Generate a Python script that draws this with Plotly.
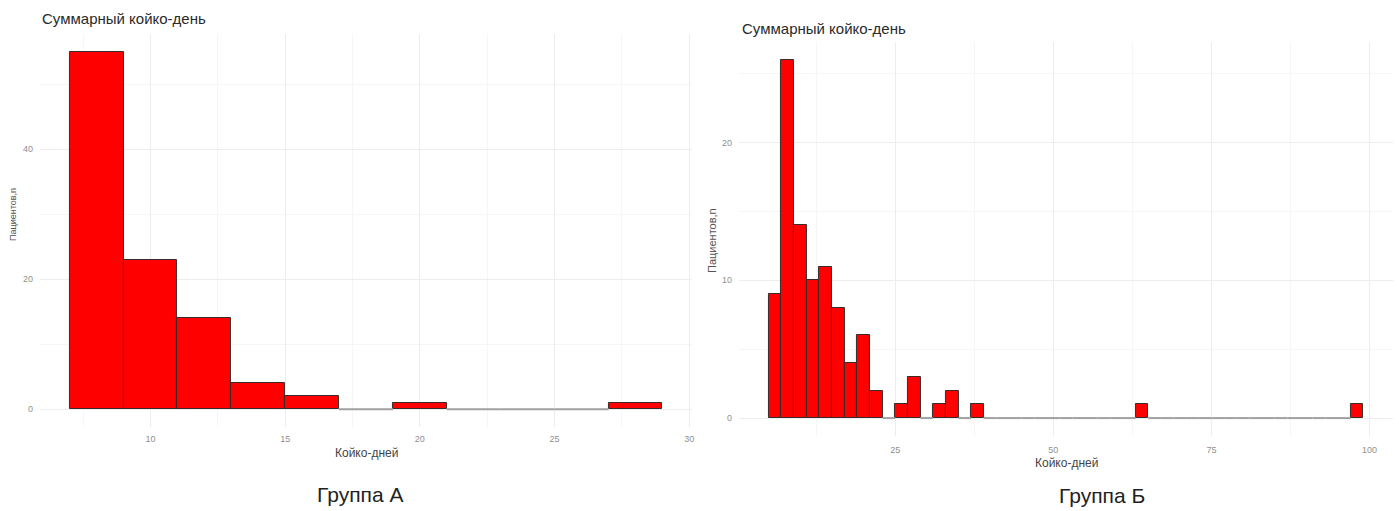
import plotly.graph_objects as go

# ---------------- data ----------------
title_text = "Суммарный койко-день"
x_title = "Койко-дней"
y_title = "Пациентов,n"
captions = ["Группа А", "Группа Б"]

# Group A histogram (bin width 2, first bin starts at 7)
a_bin_start = 7
a_bin_width = 2
a_counts = [55, 23, 14, 4, 2, 0, 1, 0, 0, 0, 1]
a_xticks = [10, 15, 20, 25, 30]
a_xminor = [7.5, 12.5, 17.5, 22.5, 27.5]
a_yticks = [0, 20, 40]
a_yminor = [10, 30, 50]

# Group B histogram (bin width 2, first bin starts at 5)
b_bin_start = 5
b_bin_width = 2
b_counts = [9, 26, 14, 10, 11, 8, 4, 6, 2, 0, 1, 3, 0, 1, 2, 0, 1,
            0, 0, 0, 0, 0, 0, 0, 0, 0, 0, 0, 0,
            1,
            0, 0, 0, 0, 0, 0, 0, 0, 0, 0, 0, 0, 0, 0, 0, 0,
            1]
b_xticks = [25, 50, 75, 100]
b_xminor = [12.5, 37.5, 62.5, 87.5]
b_yticks = [0, 10, 20]
b_yminor = [5, 15, 25]

# ---------------- layout helpers ----------------
W, H = 1399, 511


def px(x):
    return x / W


def py(y):
    return 1 - y / H


FILL = "#FF0000"
EDGE = "#3a2a2a"
ZERO = "#a0a0a0"
GRID = "#EDEDED"
GRID_MINOR = "#F6F6F6"
TICKC = "#8f8f8f"
FONT = "Liberation Sans, Arial, sans-serif"


def hist_traces(start, width, counts, xa, ya):
    xs, ys, ws = [], [], []
    zx, zy = [], []
    for i, c in enumerate(counts):
        left = start + width * i
        if c > 0:
            xs.append(left + width / 2)
            ys.append(c)
            ws.append(width)
        else:
            zx += [left, left + width, None]
            zy += [0, 0, None]
    bar = go.Bar(x=xs, y=ys, width=ws, marker=dict(color=FILL, line=dict(color=EDGE, width=1)),
                 xaxis=xa, yaxis=ya, showlegend=False, hoverinfo="x+y")
    line = go.Scatter(x=zx, y=zy, mode="lines", line=dict(color=ZERO, width=2),
                      xaxis=xa, yaxis=ya, showlegend=False, hoverinfo="skip")
    return [bar, line]


fig = go.Figure()
for t in hist_traces(a_bin_start, a_bin_width, a_counts, "x", "y"):
    fig.add_trace(t)
for t in hist_traces(b_bin_start, b_bin_width, b_counts, "x2", "y2"):
    fig.add_trace(t)


def xr(start, width, counts):
    lo = start
    hi = start + width * len(counts)
    pad = (hi - lo) * 0.05
    return [lo - pad, hi + pad]


def yr(counts):
    m = max(counts)
    return [-m * 0.05, m * 1.05]


axis_common = dict(showline=False, zeroline=False, ticks="", gridcolor=GRID, gridwidth=1,
                   tickfont=dict(family=FONT, size=9, color=TICKC))

fig.update_layout(
    width=W, height=H,
    margin=dict(l=0, r=0, t=0, b=0),
    paper_bgcolor="white", plot_bgcolor="white",
    bargap=0, showlegend=False,
    font=dict(family=FONT),
    xaxis=dict(domain=[px(40), px(693)], range=xr(a_bin_start, a_bin_width, a_counts),
               tickvals=a_xticks, ticklabelstandoff=5, anchor="y",
               minor=dict(tickvals=a_xminor, showgrid=True, gridcolor=GRID_MINOR, ticks=""),
               **axis_common),
    yaxis=dict(domain=[py(427), py(34)], range=yr(a_counts), tickvals=a_yticks,
               ticklabelstandoff=6, anchor="x",
               minor=dict(tickvals=a_yminor, showgrid=True, gridcolor=GRID_MINOR, ticks=""),
               **axis_common),
    xaxis2=dict(domain=[px(740), px(1395)], range=xr(b_bin_start, b_bin_width, b_counts),
                tickvals=b_xticks, ticklabelstandoff=7, anchor="y2",
                minor=dict(tickvals=b_xminor, showgrid=True, gridcolor=GRID_MINOR, ticks=""),
                **axis_common),
    yaxis2=dict(domain=[py(436), py(42)], range=yr(b_counts), tickvals=b_yticks,
                ticklabelstandoff=6, anchor="x2",
                minor=dict(tickvals=b_yminor, showgrid=True, gridcolor=GRID_MINOR, ticks=""),
                **axis_common),
)

ann = []
# chart titles
ann.append(dict(text=title_text, x=px(40), y=py(18), xanchor="left", yanchor="middle",
                font=dict(size=15, color="#2a2a2a", family=FONT)))
ann.append(dict(text=title_text, x=px(741), y=py(28), xanchor="left", yanchor="middle",
                font=dict(size=15, color="#2a2a2a", family=FONT)))
# x-axis titles
ann.append(dict(text=x_title, x=px(367), y=py(453), xanchor="center", yanchor="middle",
                font=dict(size=12, color="#444444", family=FONT)))
ann.append(dict(text=x_title, x=px(1068), y=py(463), xanchor="center", yanchor="middle",
                font=dict(size=12, color="#444444", family=FONT)))
# y-axis titles
ann.append(dict(text=y_title, x=px(13), y=py(214), xanchor="center", yanchor="middle",
                textangle=-90, font=dict(size=9, color="#555555", family=FONT)))
ann.append(dict(text=y_title, x=px(713), y=py(240), xanchor="center", yanchor="middle",
                textangle=-90, font=dict(size=11, color="#555555", family=FONT)))
# captions
ann.append(dict(text=captions[0], x=px(361), y=py(494), xanchor="center", yanchor="middle",
                font=dict(size=21, color="#222222", family=FONT)))
ann.append(dict(text=captions[1], x=px(1104), y=py(495), xanchor="center", yanchor="middle",
                font=dict(size=21, color="#222222", family=FONT)))
for a in ann:
    a.update(xref="paper", yref="paper", showarrow=False)
fig.update_layout(annotations=ann)

fig.write_html("out.html")
